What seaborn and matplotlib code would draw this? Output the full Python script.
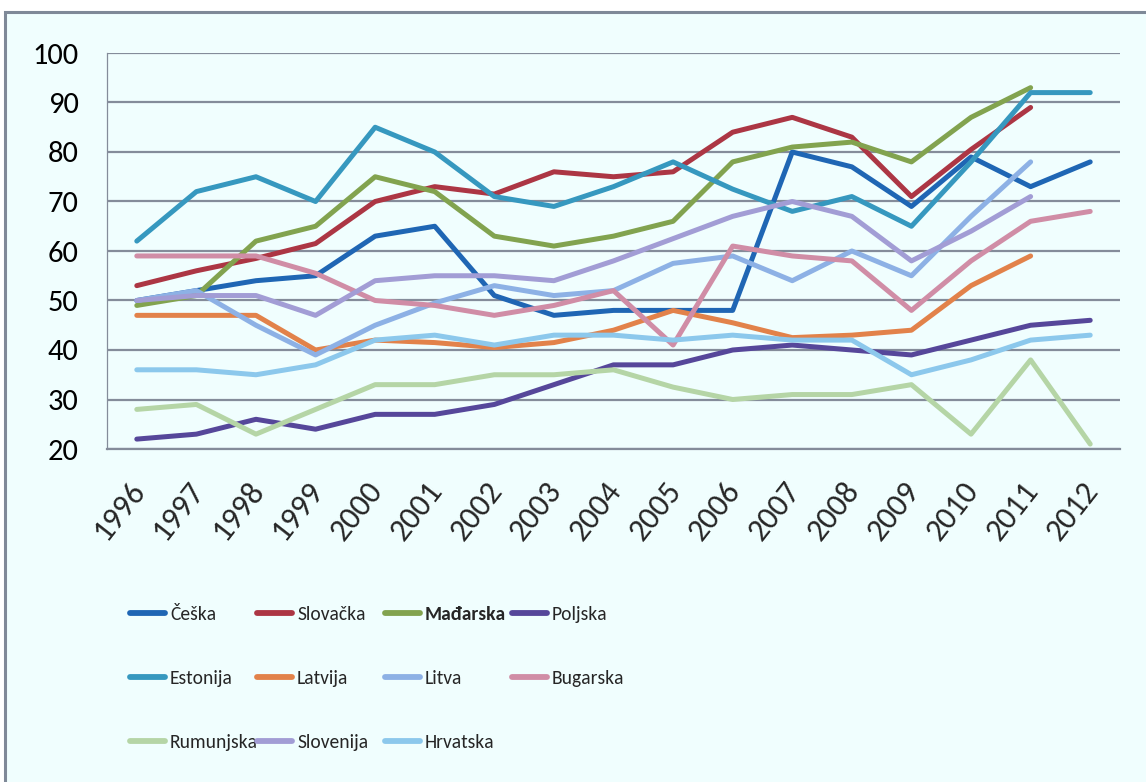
import matplotlib
matplotlib.use("Agg")
import matplotlib.pyplot as plt
from matplotlib import font_manager as fm
from matplotlib.font_manager import FontProperties
from matplotlib.lines import Line2D
from matplotlib.patches import Rectangle
from matplotlib.textpath import TextPath
from matplotlib.ticker import FixedLocator
import matplotlib.transforms as mtransforms
import numpy as np
import pandas as pd
import seaborn as sns

nan = np.nan
years = [str(y) for y in range(1996, 2013)]

countries = ["Češka", "Slovačka", "Mađarska", "Poljska", "Estonija", "Latvija",
             "Litva", "Bugarska", "Rumunjska", "Slovenija", "Hrvatska"]
colors = ["#1F66B4", "#AC3644", "#82A34F", "#56479A", "#3698BF", "#E2824A",
          "#8DB1E5", "#D08DA6", "#B5D5A6", "#A29DD5", "#8CC8EC"]

ceska = [50, 52, 54, 55, 63, 65, 51, 47, 48, 48, 48, 80, 77, 69, 79, 73, 78]
slovacka = [53, 56, 58.5, 61.5, 70, 73, 71.5, 76, 75, 76, 84, 87, 83, 71, 80.5, 89, nan]
madarska = [49, 51, 62, 65, 75, 72, 63, 61, 63, 66, 78, 81, 82, 78, 87, 93, nan]
poljska = [22, 23, 26, 24, 27, 27, 29, 33, 37, 37, 40, 41, 40, 39, 42, 45, 46]
estonija = [62, 72, 75, 70, 85, 80, 71, 69, 73, 78, 72.5, 68, 71, 65, 78, 92, 92]
latvija = [47, 47, 47, 40, 42, 41.5, 40.5, 41.5, 44, 48, 45.5, 42.5, 43, 44, 53, 59, nan]
litva = [50, 52, 45, 39, 45, 49.5, 53, 51, 52, 57.5, 59, 54, 60, 55, 67, 78, nan]
bugarska = [59, 59, 59, 55.5, 50, 49, 47, 49, 52, 41, 61, 59, 58, 48, 58, 66, 68]
rumunjska = [28, 29, 23, 28, 33, 33, 35, 35, 36, 32.5, 30, 31, 31, 33, 23, 38, 21]
slovenija = [50, 51, 51, 47, 54, 55, 55, 54, 58, 62.5, 67, 70, 67, 58, 64, 71, nan]
hrvatska = [36, 36, 35, 37, 42, 43, 41, 43, 43, 42, 43, 42, 42, 35, 38, 42, 43]

series = [ceska, slovacka, madarska, poljska, estonija, latvija,
          litva, bugarska, rumunjska, slovenija, hrvatska]

rows = []
for name, vals in zip(countries, series):
    for i, v in enumerate(vals):
        rows.append({"x": i, "value": v, "country": name})
df = pd.DataFrame(rows).dropna()


def pick_font(candidates):
    available = {f.name for f in fm.fontManager.ttflist}
    for name in candidates:
        if name in available:
            return name
    return "DejaVu Sans"


tick_font = pick_font(["Carlito", "Calibri", "Lato"])
legend_font = pick_font(["Carlito", "PT Sans Narrow", "Fira Sans Condensed", "Open Sans Condensed",
                         "Roboto Condensed", "IBM Plex Sans Condensed", "Encode Sans Condensed",
                         "Asap Condensed", "Barlow Semi Condensed", "Ubuntu Condensed",
                         "Liberation Sans Narrow", "Lato"])
tick_size = 22 if tick_font in ("Carlito", "Calibri") else 19

# legend size: make the longest label fit the column like in the original (~85 px)
probe = TextPath((0, 0), "Rumunjska", size=10, prop=FontProperties(family=legend_font))
probe_px = probe.get_extents().width * 100 / 72
legend_size = min(17, 10 * 85 / probe_px)
row_pitch_px = 67.5
fs_px = legend_size * 100 / 72
label_spacing = (row_pitch_px - 1.06 * fs_px) / fs_px

sns.set_style("white")
plt.rcParams["font.family"] = [tick_font, "DejaVu Sans"]

W, H = 1146, 782
fig = plt.figure(figsize=(W / 100, H / 100), dpi=100, facecolor="white")

bg = "#F0FEFE"
frame = Rectangle((5 / W, -0.1), 2.0, (H - 12) / H + 0.1, transform=fig.transFigure,
                  facecolor=bg, edgecolor="#7F8998", linewidth=2.2, zorder=0)
fig.add_artist(frame)

ax = fig.add_axes([107 / W, 1 - 449 / H, (1120 - 107) / W, (449 - 53) / H])
ax.set_facecolor("none")

sns.lineplot(data=df, x="x", y="value", hue="country", hue_order=countries,
             palette=colors, linewidth=3.6, legend=False, ax=ax, zorder=3)

ax.set_xlim(-0.5, 16.5)
ax.set_ylim(20, 100)
ax.set_yticks(range(20, 101, 10))
ax.yaxis.grid(True, color="#848C9A", linewidth=1.6)
ax.set_axisbelow(True)
ax.set_xlabel("")
ax.set_ylabel("")

for s in ["top", "right"]:
    ax.spines[s].set_visible(False)
ax.spines["left"].set_color("#848C9A")
ax.spines["left"].set_linewidth(0.9)
ax.spines["bottom"].set_color("#848C9A")
ax.spines["bottom"].set_linewidth(1.6)

ax.tick_params(axis="y", length=7.5, width=1.6, color="#848C9A", pad=13,
               labelsize=tick_size, labelcolor="black")
ax.set_xticks(range(len(years)))
ax.set_xticklabels(years, rotation=52, ha="right", va="top",
                   rotation_mode="anchor", fontsize=tick_size + 1)
ax.tick_params(axis="x", which="major", length=0, pad=20)
shift = mtransforms.ScaledTranslation(-9 / 100, 0, fig.dpi_scale_trans)
for lab in ax.get_xticklabels():
    lab.set_transform(lab.get_transform() + shift)
ax.xaxis.set_minor_locator(FixedLocator(np.arange(-0.5, 17, 1)))
ax.tick_params(axis="x", which="minor", length=7, width=1.0, color="#848C9A")

# legend: 4 columns laid out like the original, row-wise order
col_x = [130, 257, 385, 512]
legend_top = 606
for c in range(4):
    idx = [i for i in range(len(countries)) if i % 4 == c]
    handles = [Line2D([], [], color=colors[i], linewidth=4.2,
                      solid_capstyle="round") for i in idx]
    labels = [countries[i] for i in idx]
    leg = fig.legend(handles, labels, loc="upper left",
                     bbox_to_anchor=(col_x[c] / W, 1 - legend_top / H),
                     frameon=False, borderpad=0, borderaxespad=0,
                     handlelength=35 / fs_px, handletextpad=5 / fs_px,
                     labelspacing=label_spacing,
                     prop={"family": [legend_font, "DejaVu Sans"], "size": legend_size})
    for t in leg.get_texts():
        if t.get_text() == "Mađarska":
            t.set_fontweight("bold")

fig.savefig("out.png", dpi=100, facecolor=fig.get_facecolor())
